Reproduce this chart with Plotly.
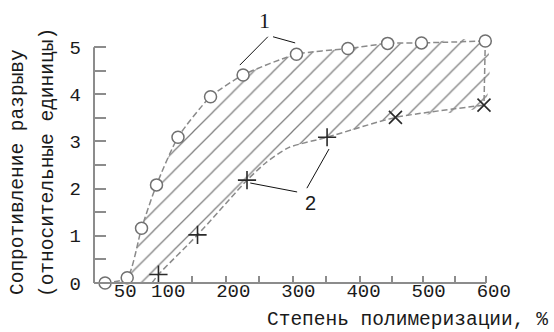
import plotly.graph_objects as go

# ---- data ----
# curve 1 (open circles)
c1_x = [3, 37, 59, 82, 115, 165, 215, 297, 376, 437, 489, 587]
c1_y = [0, 0.11, 1.16, 2.08, 3.09, 3.95, 4.41, 4.85, 4.97, 5.08, 5.09, 5.13]
# curve 2 (crosses)
c2_x = [85, 145, 221, 344, 449, 585]
c2_y = [0.18, 1.02, 2.18, 3.09, 3.51, 3.77]
# dashed line of curve 2 as drawn (starts on the axis, bends near 280)
c2_line_x = [75, 85, 145, 221, 250, 285, 344, 449, 585]
c2_line_y = [0, 0.18, 1.02, 2.18, 2.55, 2.87, 3.09, 3.51, 3.77]

x_tick_pos = [34, 100, 200, 300, 400, 500, 600]
x_tick_text = ["50", "100", "200", "300", "400", "500", "600"]
x_minor_ticks = [137, 188, 240, 291, 343, 394, 443, 492, 541, 588]
y_tick_pos = [0, 1, 2, 3, 4, 5]
y_tick_text = ["0", "1", "2", "3", "4", "5"]
y_minor_ticks = [0.5, 1.5, 2.5, 3.5, 4.5]

X_RANGE = [-14, 605]
Y_RANGE = [0, 5.3]
X_AXIS_END = 588
Y_AXIS_END = 5

x_title = "Степень полимеризации, %"
y_title_1 = "Сопротивление разрыву"
y_title_2 = "(относительные единицы)"

AX = "#8c8c8c"
DASH = "#8a8a8a"
TXT = "#1a1a1a"
FONT = "Liberation Mono"

fig = go.Figure()

# hatched region between the curves
fig.add_trace(go.Scatter(
    x=c1_x + c2_line_x[::-1], y=c1_y + c2_line_y[::-1],
    mode="lines", fill="toself", line=dict(width=0, shape="spline", smoothing=0.6),
    fillcolor="white",
    fillpattern=dict(shape="/", size=14, solidity=0.09, fgcolor="#808080", bgcolor="white"),
    hoverinfo="skip", showlegend=False,
))
# right edge
fig.add_trace(go.Scatter(
    x=[c1_x[-1], c2_x[-1]], y=[c1_y[-1], c2_y[-1]], mode="lines",
    line=dict(color=DASH, width=1.5, dash="6px,3px"), showlegend=False,
))
# curve 2 line
fig.add_trace(go.Scatter(
    x=c2_line_x, y=c2_line_y, mode="lines",
    line=dict(color=DASH, width=1.5, dash="6px,3px", shape="spline", smoothing=0.6),
    showlegend=False,
))
# curve 1 line + markers
fig.add_trace(go.Scatter(
    x=c1_x, y=c1_y, mode="lines+markers",
    line=dict(color=DASH, width=1.5, dash="6px,3px", shape="spline", smoothing=0.6),
    marker=dict(symbol="circle", size=12, color="white", line=dict(color="#707070", width=1.5)),
    cliponaxis=False, showlegend=False,
))
# curve 2 markers
fig.add_trace(go.Scatter(
    x=c2_x, y=c2_y, mode="markers",
    marker=dict(symbol=["cross-thin"] * 4 + ["x-thin"] * 2, size=13,
                line=dict(color="#2a2a2a", width=1.6)),
    cliponaxis=False, showlegend=False,
))

# leader lines for labels
leaders = [
    ([210, 253], [4.62, 5.22]),
    ([261, 295], [5.22, 5.09]),
    ([226, 298], [2.12, 1.93]),
    ([313, 347], [2.01, 2.84]),
]
for lx, ly in leaders:
    fig.add_trace(go.Scatter(x=lx, y=ly, mode="lines",
                             line=dict(color="#111", width=1), showlegend=False))

xspan = X_RANGE[1] - X_RANGE[0]
yspan = Y_RANGE[1] - Y_RANGE[0]
shapes = [
    dict(type="line", xref="paper", yref="paper", x0=0, x1=0, y0=0,
         y1=(Y_AXIS_END - Y_RANGE[0]) / yspan, line=dict(color=AX, width=2)),
    dict(type="line", xref="paper", yref="paper", y0=0, y1=0, x0=0,
         x1=(X_AXIS_END - X_RANGE[0]) / xspan, line=dict(color=AX, width=2)),
]

annotations = [
    dict(text=x_title, xref="paper", yref="paper", x=1.1315, y=-0.146,
         xanchor="right", yanchor="middle", showarrow=False,
         font=dict(family=FONT, size=19.5, color=TXT)),
    dict(text=y_title_1, xref="paper", yref="paper", x=-0.1886, y=0.444,
         textangle=-90, xanchor="center", yanchor="middle", showarrow=False,
         font=dict(family=FONT, size=19.5, color=TXT)),
    dict(text=y_title_2, xref="paper", yref="paper", x=-0.114, y=0.48,
         textangle=-90, xanchor="center", yanchor="middle", showarrow=False,
         font=dict(family=FONT, size=19.5, color=TXT)),
    dict(text="1", xref="paper", yref="paper", x=0.424, y=1.048,
         xanchor="center", yanchor="middle", showarrow=False,
         font=dict(family="Liberation Serif", size=22, color=TXT)),
    dict(text="2", x=319, y=1.70, xanchor="center", yanchor="middle", showarrow=False,
         font=dict(family="Liberation Sans", size=20, color=TXT)),
]

fig.update_layout(
    template="none",
    width=554, height=332,
    margin=dict(l=94, r=57, t=33, b=49, autoexpand=False),
    paper_bgcolor="white", plot_bgcolor="white",
    shapes=shapes, annotations=annotations,
    font=dict(family=FONT, size=19, color=TXT),
    xaxis=dict(range=X_RANGE, showgrid=False, zeroline=False, showline=False,
               automargin=False,
               tickmode="array", tickvals=x_tick_pos, ticktext=x_tick_text,
               ticks="", ticklabelstandoff=-6,
               tickfont=dict(family=FONT, size=19, color=TXT),
               minor=dict(tickmode="array", tickvals=x_minor_ticks, ticks="inside",
                          ticklen=7, tickwidth=2, tickcolor=AX, showgrid=False)),
    yaxis=dict(range=Y_RANGE, showgrid=False, zeroline=False, showline=False,
               automargin=False,
               tickmode="array", tickvals=y_tick_pos, ticktext=y_tick_text,
               ticks="inside", ticklen=12, tickwidth=2, tickcolor=AX,
               ticklabelstandoff=12,
               tickfont=dict(family=FONT, size=19, color=TXT),
               minor=dict(tickmode="array", tickvals=y_minor_ticks, ticks="inside",
                          ticklen=12, tickwidth=2, tickcolor=AX, showgrid=False)),
)

fig.write_html("out.html", config={"displayModeBar": False},
               post_script="document.body.style.margin='0';")
